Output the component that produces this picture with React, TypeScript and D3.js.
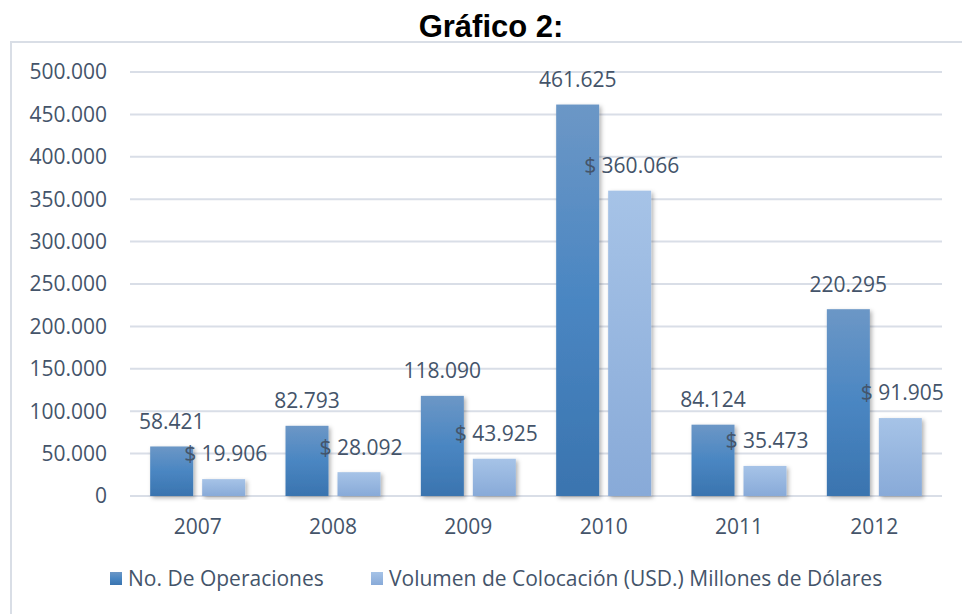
import React from "react";
import * as d3 from "d3";

const years = ["2007", "2008", "2009", "2010", "2011", "2012"];
const operaciones = [58421, 82793, 118090, 461625, 84124, 220295];
const volumen = [19906, 28092, 43925, 360066, 35473, 91905];
const seriesNames = ["No. De Operaciones", "Volumen de Colocación (USD.) Millones de Dólares"];
const yTicks = [0, 50000, 100000, 150000, 200000, 250000, 300000, 350000, 400000, 450000, 500000];

const W = 962;
const H = 614;
const TEXT = "#44546a";
const FONT = "'Open Sans', 'Noto Sans', sans-serif";
const FS = 21;

const fmt = (v: number) => {
  const s = d3.format(",")(v);
  return s.replace(/,/g, ".");
};

export default function App() {
  const x = d3.scaleBand<string>().domain(years).range([130, 942]);
  const x1 = d3
    .scaleBand<number>()
    .domain([0, 1])
    .range([0, x.bandwidth()])
    .paddingInner(0.173)
    .paddingOuter(0.388);
  const y = d3.scaleLinear().domain([0, 500000]).range([496, 72]);
  const series = [operaciones, volumen];
  const grads = ["gDark", "gLight"];
  const legendX = [110, 371];

  return (
    <svg
      width={W}
      height={H}
      style={{ position: "absolute", left: 0, top: 0, background: "#fff" }}
      fontFamily={FONT}
    >
      <defs>
        <linearGradient id="gDark" x1="0" y1="0" x2="0" y2="1">
          <stop offset="0%" stopColor="#6c97c6" />
          <stop offset="50%" stopColor="#4a86c2" />
          <stop offset="100%" stopColor="#3a74af" />
        </linearGradient>
        <linearGradient id="gLight" x1="0" y1="0" x2="0" y2="1">
          <stop offset="0%" stopColor="#a6c3e7" />
          <stop offset="100%" stopColor="#88aad8" />
        </linearGradient>
        <filter id="shadow" x="-20%" y="-10%" width="150%" height="130%">
          <feDropShadow dx="2" dy="2" stdDeviation="2" floodColor="#000" floodOpacity="0.3" />
        </filter>
      </defs>
      <rect x={0} y={0} width={W} height={H} fill="#fff" />
      <text
        x={491}
        y={37}
        textAnchor="middle"
        fontFamily="'Liberation Sans', Arial, sans-serif"
        fontWeight="bold"
        fontSize={31}
        fill="#000"
      >
        Gráfico 2:
      </text>
      <rect x={11} y={42} width={W} height={H} fill="none" stroke="#d9dee6" strokeWidth={2} />
      {yTicks.map((t) => (
        <g key={t}>
          <line x1={130} x2={942} y1={y(t)} y2={y(t)} stroke="#d9dee7" strokeWidth={2} />
          <text
            x={107}
            y={y(t)}
            dy="0.35em"
            textAnchor="end"
            fontSize={FS}
            fill={TEXT}
          >
            {t === 0 ? "0" : fmt(t)}
          </text>
        </g>
      ))}
      {years.map((yr, i) => (
        <g key={yr}>
          {series.map((s, k) => {
            const bx = (x(yr) as number) + (x1(k) as number);
            const bw = x1.bandwidth();
            return (
              <rect
                key={k}
                x={bx}
                y={y(s[i])}
                width={bw}
                height={y(0) - y(s[i])}
                fill={`url(#${grads[k]})`}
                filter="url(#shadow)"
              />
            );
          })}
          <text
            x={(x(yr) as number) + x.bandwidth() / 2}
            y={527}
            dy="0.35em"
            textAnchor="middle"
            fontSize={FS}
            fill={TEXT}
          >
            {yr}
          </text>
        </g>
      ))}
      {years.map((yr, i) =>
        series.map((s, k) => {
          const bx = (x(yr) as number) + (x1(k) as number) + x1.bandwidth() / 2 + (k === 1 ? 2 : 0);
          return (
            <text
              key={yr + k}
              x={bx}
              y={y(s[i]) - 25}
              dy="0.35em"
              textAnchor="middle"
              fontSize={FS}
              fill={TEXT}
            >
              {k === 1 ? `$ ${fmt(s[i])}` : fmt(s[i])}
            </text>
          );
        })
      )}
      {seriesNames.map((n, k) => (
        <g key={n}>
          <rect x={legendX[k]} y={572} width={12} height={13} fill={`url(#${grads[k]})`} />
          <text x={legendX[k] + 18} y={579} dy="0.35em" fontSize={FS} fill={TEXT}>
            {n}
          </text>
        </g>
      ))}
    </svg>
  );
}
